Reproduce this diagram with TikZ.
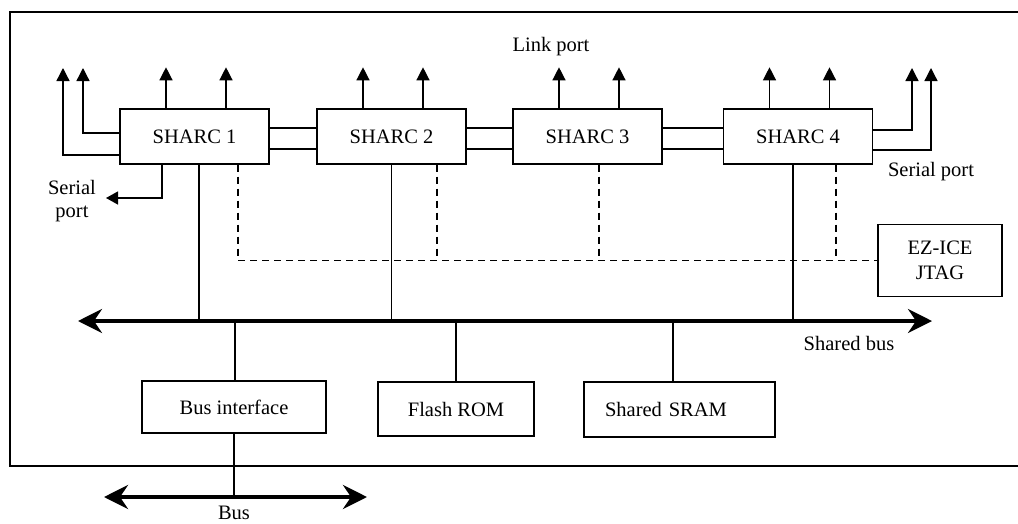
\documentclass[tikz,border=0pt]{standalone}
\usepackage{fontspec}
\setmainfont{Liberation Serif}
\usetikzlibrary{arrows.meta}
\begin{document}
\begin{tikzpicture}[x=1pt,y=-1pt,
  txt/.style={font=\fontsize{20.5}{24}\selectfont,inner sep=0pt},
  box/.style={txt,draw,line width=1.4pt,rectangle,minimum width=149pt,minimum height=55pt},
  conn/.style={line width=1.3pt},
  uparrow/.style={conn,-{Triangle[length=13pt,width=13pt]}},
  dashline/.style={line width=1.3pt,dash pattern=on 7pt off 5pt},
  busline/.style={line width=3.5pt,{Stealth[length=24pt,width=24pt,inset=8pt]}-{Stealth[length=24pt,width=24pt,inset=8pt]}}
]
\useasboundingbox (0,0) rectangle (1018,523);
\clip (0,0) rectangle (1018,523);

% frame
\draw[line width=1.5pt] (1030,12) -- (10,12) -- (10,466) -- (1030,466);

% SHARC boxes
\node[box] (s1) at (194.5,136.5) {SHARC 1};
\node[box] (s2) at (391.5,136.5) {SHARC 2};
\node[box] (s3) at (587.5,136.5) {SHARC 3};
\node[box] (s4) at (798,136.5) {SHARC 4};
\node[box,minimum width=124pt,minimum height=72pt,align=center,font=\fontsize{20.5}{25}\selectfont] (ez) at (940,260.5) {EZ-ICE\\JTAG};

% lower boxes
\node[box,minimum width=184pt,minimum height=52pt] (bi) at (234,407) {Bus interface};
\node[box,minimum width=156pt,minimum height=54pt] (fr) at (456,409) {Flash ROM};
\node[box,minimum width=191pt,minimum height=55pt,text width=149pt,inner xsep=21pt,align=left] (sram) at (679.5,409.5) {Shared SRAM};

% labels
\node[txt] (lp) at (551,47) {Link port};
\node[txt,align=center,font=\fontsize{20.5}{23}\selectfont] (spl) at (72,201) {Serial\\port};
\node[txt] (spr) at (931,172) {Serial port};
\node[txt] (sbl) at (849,343) {Shared bus};
\node[txt] (bl) at (234,513) {Bus};

% link connections between SHARCs
\foreach \a/\b in {s1/s2,s2/s3,s3/s4}{
  \draw[conn] ([yshift=8.5pt]\a.east) -- ([yshift=8.5pt]\b.west);
  \draw[conn] ([yshift=-12.5pt]\a.east) -- ([yshift=-12.5pt]\b.west);
}

% link port arrows
\foreach \s in {s1,s2,s3,s4}{
  \draw[uparrow] ([xshift=-28.5pt]\s.north) -- ++(0,-41);
  \draw[uparrow] ([xshift=31.5pt]\s.north) -- ++(0,-41);
}

% serial ports
\coordinate (t1) at (83,68);
\coordinate (t2) at (63,68);
\coordinate (t3) at (912,68);
\coordinate (t4) at (931,68);
\coordinate (sp) at (106,198);
\draw[uparrow] ([yshift=3.5pt]s1.west) -| (t1);
\draw[uparrow] ([yshift=-18.5pt]s1.west) -| (t2);
\draw[uparrow] ([yshift=6.5pt]s4.east) -| (t3);
\draw[uparrow] ([yshift=-13.5pt]s4.east) -| (t4);
\draw[conn,-{Triangle[length=12pt,width=13pt]}] ([xshift=-32.5pt]s1.south) |- (sp);

% shared bus
\coordinate (busL) at (78,321);
\coordinate (busR) at (932,321);
\draw[busline] (busL) -- (busR);
\draw[conn] ([xshift=4.5pt]s1.south) -- ([xshift=4.5pt]s1.south |- busL);
\draw[conn] (s2.south) -- (s2.south |- busL);
\draw[conn] ([xshift=-5pt]s4.south) -- ([xshift=-5pt]s4.south |- busL);
\draw[conn] ([xshift=1pt]bi.north) -- ([xshift=1pt]bi.north |- busL);
\draw[conn] (fr.north) -- (fr.north |- busL);
\draw[conn] ([xshift=-6.5pt]sram.north) -- ([xshift=-6.5pt]sram.north |- busL);

% JTAG dashed
\draw[dashline] ([xshift=43.5pt]s1.south) |- (ez.west);
\draw[dashline] ([xshift=45.5pt]s2.south) -- ([xshift=45.5pt]s2.south |- ez.west);
\draw[dashline] ([xshift=11.5pt]s3.south) -- ([xshift=11.5pt]s3.south |- ez.west);
\draw[dashline] ([xshift=38pt]s4.south) -- ([xshift=38pt]s4.south |- ez.west);

% external bus
\coordinate (bL) at (104,497);
\coordinate (bR) at (367,497);
\draw[conn] (bi.south) -- (bi.south |- bL);
\draw[busline,line width=4pt] (bL) -- (bR);
\end{tikzpicture}
\end{document}
